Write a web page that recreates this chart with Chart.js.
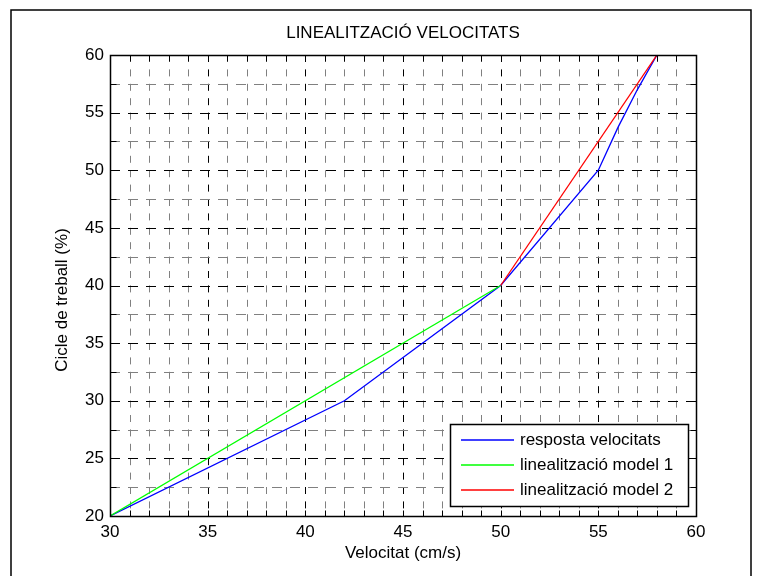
<!DOCTYPE html>
<html>
<head>
<meta charset="utf-8">
<script src="https://cdn.jsdelivr.net/npm/chart.js@4/dist/chart.umd.min.js"></script>
<style>
  html, body { margin: 0; padding: 0; background: #fff; }
  #wrap { width: 758px; height: 576px; }
</style>
</head>
<body>
<div id="wrap"><canvas id="c" width="758" height="576"></canvas></div>
<script>
// Measured response and the two linear models
const velocitat = [30, 42, 50, 55, 56, 57, 58];
const resposta  = [20, 30, 40, 50, 53.7, 57, 60];
const model1X = [30, 50];
const model1Y = [20, 40];
const model2X = [50, 58];
const model2Y = [40, 60];

const seriesLabels = ['resposta velocitats', 'linealització model 1', 'linealització model 2'];
const seriesColors = ['#0000ff', '#00ff00', '#ff0000'];

const titleText = 'LINEALITZACIÓ VELOCITATS';
const xTitle = 'Velocitat (cm/s)';
const yTitle = 'Cicle de treball (%)';

const FONT = "'Liberation Sans', Arial, Helvetica, sans-serif";
const FS = 17;

Chart.defaults.font.family = FONT;
Chart.defaults.font.size = FS;
Chart.defaults.color = '#000';

const pts = (xs, ys) => xs.map((v, i) => ({x: v, y: ys[i]}));

// MATLAB-like axes: frame, dashed major/minor grid, inward ticks, boxed legend
const matlabAxes = {
  id: 'matlabAxes',
  beforeDraw(chart) {
    const ctx = chart.ctx;
    ctx.save();
    ctx.fillStyle = '#fff';
    ctx.fillRect(0, 0, chart.width, chart.height);
    ctx.strokeStyle = '#000';
    ctx.lineWidth = 1.5;
    ctx.strokeRect(11, 10, 740, 620);
    ctx.restore();
  },
  beforeDatasetsDraw(chart) {
    const {ctx, chartArea: a, scales: {x, y}} = chart;
    ctx.save();
    ctx.lineWidth = 1;
    // vertical grid lines
    x.ticks.forEach(t => {
      if (t.value <= x.min || t.value >= x.max) return;
      const px = Math.round(x.getPixelForValue(t.value)) + 0.5;
      ctx.strokeStyle = (t.value % 5 === 0) ? '#000' : '#808080';
      ctx.setLineDash([7, 7.4]);
      ctx.beginPath();
      ctx.moveTo(px, a.top);
      ctx.lineTo(px, a.bottom);
      ctx.stroke();
    });
    // horizontal grid lines
    y.ticks.forEach(t => {
      if (t.value <= y.min || t.value >= y.max) return;
      const py = Math.round(y.getPixelForValue(t.value)) + 0.5;
      ctx.strokeStyle = (t.value % 5 === 0) ? '#000' : '#808080';
      ctx.setLineDash([10, 8]);
      ctx.beginPath();
      ctx.moveTo(a.left, py);
      ctx.lineTo(a.right, py);
      ctx.stroke();
    });
    ctx.restore();
  },
  afterDatasetsDraw(chart) {
    const {ctx, chartArea: a, scales: {x, y}} = chart;
    const L = Math.round(a.left) + 0.5, R = Math.round(a.right) + 0.5;
    const T = Math.round(a.top) + 0.5, B = Math.round(a.bottom) + 0.5;
    const tl = 6;
    ctx.save();
    ctx.setLineDash([]);
    ctx.strokeStyle = '#000';
    ctx.lineWidth = 1;
    ctx.beginPath();
    x.ticks.forEach(t => {
      const px = Math.round(x.getPixelForValue(t.value)) + 0.5;
      ctx.moveTo(px, B); ctx.lineTo(px, B - tl);
      ctx.moveTo(px, T); ctx.lineTo(px, T + tl);
    });
    y.ticks.forEach(t => {
      const py = Math.round(y.getPixelForValue(t.value)) + 0.5;
      ctx.moveTo(L, py); ctx.lineTo(L + tl, py);
      ctx.moveTo(R, py); ctx.lineTo(R - tl, py);
    });
    ctx.stroke();
    ctx.lineWidth = 1.5;
    ctx.strokeRect(L, T, R - L, B - T);

    // y-axis title
    ctx.font = FS + 'px ' + FONT;
    ctx.fillStyle = '#000';
    ctx.textAlign = 'center';
    ctx.textBaseline = 'middle';
    ctx.save();
    ctx.translate(62, 300);
    ctx.rotate(-Math.PI / 2);
    ctx.fillText(yTitle, 0, 0);
    ctx.restore();

    // legend
    const box = {x: 450.5, y: 424.5, w: 238, h: 82};
    ctx.fillStyle = '#fff';
    ctx.fillRect(box.x, box.y, box.w, box.h);
    ctx.strokeStyle = '#000';
    ctx.lineWidth = 1.5;
    ctx.strokeRect(box.x, box.y, box.w, box.h);
    ctx.textBaseline = 'middle';
    ctx.textAlign = 'left';
    const rows = [440, 464.5, 489.5];
    seriesLabels.forEach((lab, i) => {
      ctx.strokeStyle = seriesColors[i];
      ctx.lineWidth = 1.5;
      ctx.beginPath();
      ctx.moveTo(461, Math.round(rows[i]));
      ctx.lineTo(514, Math.round(rows[i]));
      ctx.stroke();
      ctx.fillStyle = '#000';
      ctx.fillText(lab, 520, rows[i] + 0.5);
    });
    ctx.restore();
  }
};

const lineDs = (label, data, color, order) => ({
  label, data, order,
  showLine: true,
  borderColor: color,
  backgroundColor: color,
  borderWidth: 1.3,
  pointRadius: 0,
  tension: 0,
  fill: false
});

new Chart(document.getElementById('c'), {
  type: 'scatter',
  data: {
    datasets: [
      lineDs(seriesLabels[0], pts(velocitat, resposta), seriesColors[0], 2),
      lineDs(seriesLabels[1], pts(model1X, model1Y), seriesColors[1], 1),
      lineDs(seriesLabels[2], pts(model2X, model2Y), seriesColors[2], 0)
    ]
  },
  options: {
    responsive: false,
    animation: false,
    events: [],
    layout: { padding: { left: 0, right: 62, top: 0, bottom: 0 } },
    plugins: {
      legend: { display: false },
      tooltip: { enabled: false },
      title: {
        display: true,
        fullSize: false,
        text: titleText,
        color: '#000',
        font: { size: FS, weight: 'normal' },
        padding: { top: 22.8, bottom: 11.8 }
      }
    },
    scales: {
      x: {
        type: 'linear',
        min: 30, max: 60,
        grid: { display: false, drawTicks: false },
        border: { display: false },
        ticks: {
          stepSize: 1,
          autoSkip: false,
          maxRotation: 0,
          padding: 6,
          color: '#000',
          callback: v => (v % 5 === 0 ? String(v) : '')
        },
        title: {
          display: true,
          text: xTitle,
          color: '#000',
          font: { size: FS },
          padding: { top: 0, bottom: 12.8 }
        },
        afterFit(s) { s.height = 60; }
      },
      y: {
        type: 'linear',
        min: 20, max: 60,
        grid: { display: false, drawTicks: false },
        border: { display: false },
        ticks: {
          stepSize: 2.5,
          autoSkip: false,
          padding: 6,
          color: '#000',
          callback: v => (v % 5 === 0 ? String(v) : '')
        },
        afterFit(s) { s.width = 110; }
      }
    }
  },
  plugins: [matlabAxes]
});
</script>
</body>
</html>
